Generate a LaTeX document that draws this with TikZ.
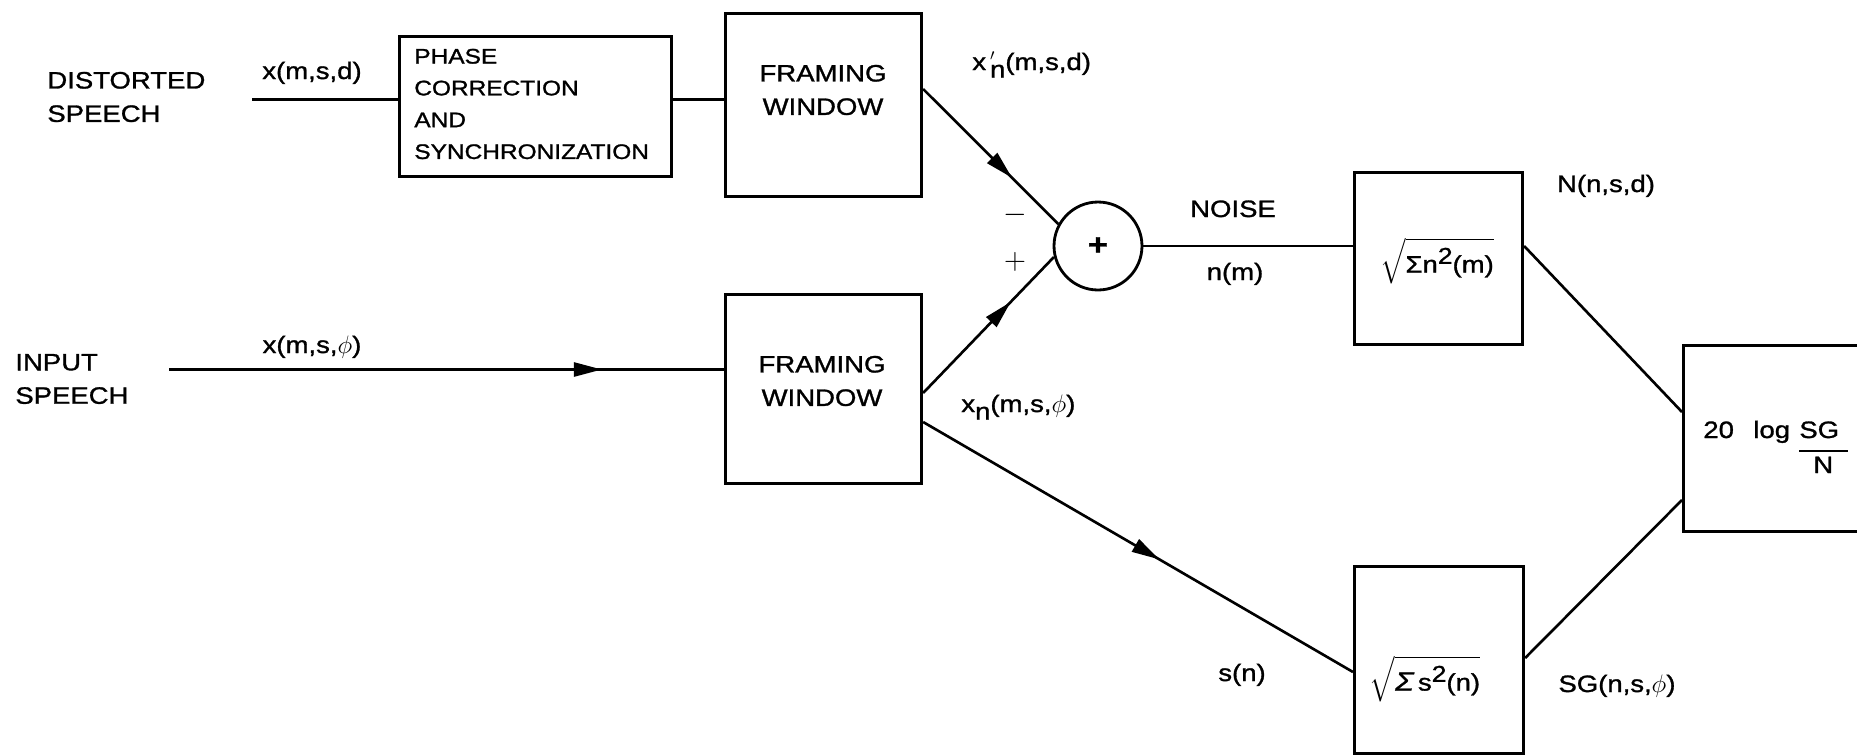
\documentclass[tikz,border=0pt]{standalone}
\usepackage{amsmath}
\usepackage[no-math]{fontspec}
\setmainfont[FakeStretch=1.16,FakeBold=1.2]{Liberation Sans}
\usetikzlibrary{arrows.meta,decorations.markings}
\tikzset{
  blk/.style={draw, line width=1.8pt, inner sep=0pt, anchor=north west},
  wire/.style={line width=1.5pt},
  midarrow/.style={postaction={decorate}, decoration={markings, mark=at position #1 with {\arrow{Triangle[length=5.6mm,width=2.8mm]}}}},
  lbl/.style={font=\fontsize{13.5}{19}\selectfont, inner sep=0pt},
  two/.style={lbl, align=left, anchor=west},
  sgn/.style={inner sep=0pt, font=\fontsize{16}{16}\selectfont},
}
\begin{document}
\begin{tikzpicture}[x=0.02cm, y=-0.02cm]
\clip (0,0) rectangle (1857,755);
\fill[white] (0,0) rectangle (1857,755);

% blocks
\node[blk, minimum width=5.44cm, minimum height=2.8cm] (phase) at (398,35) {};
\node[blk, minimum width=3.92cm, minimum height=3.66cm] (fw1) at (724,12) {};
\node[blk, minimum width=3.92cm, minimum height=3.78cm] (fw2) at (724,293) {};
\node[blk, minimum width=3.36cm, minimum height=3.44cm] (box1) at (1353,171) {};
\node[blk, minimum width=3.38cm, minimum height=3.74cm] (box2) at (1353,565) {};
\node[blk, minimum width=5cm, minimum height=3.72cm] (final) at (1682,344) {};
\node[draw, circle, line width=1.6pt, minimum size=1.76cm, inner sep=0pt] (sum) at (1098,246) {\bfseries\fontsize{17}{17}\selectfont +};

% texts
\node[two] (dist) at (47,97) {DISTORTED\\SPEECH};
\node[two] (inp) at (15,379) {INPUT\\SPEECH};
\node[lbl, font=\fontsize{12}{18.1}\selectfont, align=left, anchor=west] (phtxt) at (414,104) {PHASE\\CORRECTION\\AND\\SYNCHRONIZATION};
\node[lbl, align=center] (fw1t) at (823,90) {FRAMING\\WINDOW};
\node[lbl, align=center] (fw2t) at (822,381) {FRAMING\\WINDOW};

\node[lbl, anchor=base] (xd) at (312,79) {x(m,s,d)};
\node[lbl, anchor=base] (xphi) at (312,353) {x(m,s,$\phi$)};
\node[lbl, anchor=base west] (xnd) at (972,70) {x\,\rlap{$'$}\raisebox{-0.6ex}{n}(m,s,d)};
\node[lbl, anchor=base west] (xnphi) at (961,412) {x\raisebox{-0.6ex}{n}(m,s,$\phi$)};
\node[lbl, anchor=base] (noise) at (1233,217) {NOISE};
\node[lbl, anchor=base] (nm) at (1235,280) {n(m)};
\node[lbl, anchor=base] (nnsd) at (1606,192) {N(n,s,d)};
\node[lbl, anchor=base] (sn) at (1242,681) {s(n)};
\node[lbl, anchor=base] (sgl) at (1617,692) {SG(n,s,$\phi$)};
\node[lbl] (sq1) at (1437,261) {$\sqrt{\mbox{Σn\raisebox{0.7ex}{\fontsize{13}{13}\selectfont 2}(m)}}$};
\node[lbl] (sq2) at (1425,679) {$\sqrt{\mbox{\fontsize{15}{15}\selectfont\itshape Σ\upshape\,\fontsize{13.5}{13.5}\selectfont s\raisebox{0.7ex}{\fontsize{13}{13}\selectfont 2}(n)}}$};
\node[sgn] (minus) at (1015,215) {$-$};
\node[sgn] (plus) at (1015,262) {$+$};

\node[lbl, anchor=base west] (twenty) at (1703,438) {20};
\node[lbl, anchor=base west] (logt) at (1753,438) {log};
\node[lbl, anchor=base west] (sgt) at (1799,438) {SG};
\draw[line width=1.5pt] (1799,451) -- (1848,451);
\node[lbl, anchor=base west] (nt) at (1813,473) {N};

% helper coordinates
\coordinate (din) at (252,99.5);
\coordinate (iin) at (169,369.5);
\coordinate (y89) at (0,89);
\coordinate (y393) at (0,393);
\coordinate (y422) at (0,422);
\coordinate (y672) at (0,672);
\coordinate (y412) at (0,412);
\coordinate (y658) at (0,658);
\coordinate (y500) at (0,500);

% wires
\draw[wire] (din) -- (phase.west |- din);
\draw[wire] (phase.east |- din) -- (fw1.west |- din);
\draw[wire, midarrow=0.66] (fw1.east |- y89) -- (sum.151);
\draw[wire, midarrow=0.78] (iin) -- (fw2.west |- iin);
\draw[wire, midarrow=0.67] (fw2.east |- y393) -- (sum.194);
\draw[wire, midarrow=0.55] (fw2.east |- y422) -- (box2.west |- y672);
\draw[wire] (sum.east) -- (box1.west |- sum.east);
\draw[wire] (box1.east |- sum.east) -- (final.west |- y412);
\draw[wire] (box2.east |- y658) -- (final.west |- y500);
\end{tikzpicture}
\end{document}
